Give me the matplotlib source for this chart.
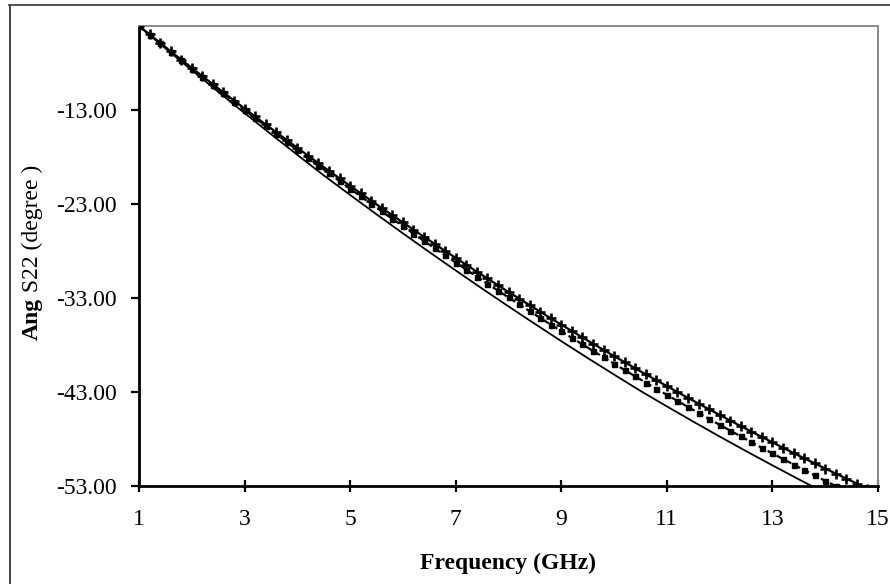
import matplotlib
matplotlib.use("Agg")
import matplotlib.pyplot as plt
from matplotlib.lines import Line2D

plt.rcParams['font.family'] = ['Liberation Serif', 'DejaVu Serif']

# Frequency grids (GHz)
freq_coarse = [1.0 + 0.5 * i for i in range(29)]
freq_fine = [round(1.0 + 0.2 * i, 1) for i in range(71)]

# Phase of S22 (degree)
ang_solid = [-4.00, -6.37, -8.71, -11.01, -13.28, -15.52, -17.73, -19.91,
             -22.00, -24.06, -26.09, -28.08, -30.04, -31.97, -33.87, -35.73,
             -37.57, -39.37, -41.13, -42.87, -44.52, -46.14, -47.73, -49.28,
             -50.80, -52.29, -53.75, -55.23, -56.67]

ang_dashed = [-4.00, -4.92, -5.83, -6.74, -7.64, -8.54, -9.43, -10.31,
              -11.19, -12.07, -12.94, -13.80, -14.66, -15.52, -16.36, -17.21,
              -18.04, -18.87, -19.70, -20.52, -21.34, -22.15, -22.95, -23.75,
              -24.55, -25.33, -26.12, -26.90, -27.67, -28.43, -29.20, -29.95,
              -30.70, -31.45, -32.19, -32.92, -33.65, -34.38, -35.09, -35.81,
              -36.51, -37.22, -37.91, -38.60, -39.29, -39.97, -40.65, -41.32,
              -41.98, -42.64, -43.29, -43.94, -44.58, -45.22, -45.85, -46.48,
              -47.10, -47.71, -48.33, -48.93, -49.53, -50.12, -50.71, -51.30,
              -51.87, -52.45, -53.01, -53.57, -54.13, -54.68, -55.23]

ang_cross = [-4.00, -4.90, -5.80, -6.70, -7.58, -8.47, -9.34, -10.21,
             -11.08, -11.94, -12.79, -13.64, -14.49, -15.32, -16.15, -16.98,
             -17.80, -18.62, -19.43, -20.23, -21.03, -21.82, -22.61, -23.39,
             -24.16, -24.93, -25.70, -26.46, -27.21, -27.96, -28.70, -29.44,
             -30.17, -30.89, -31.61, -32.33, -33.03, -33.74, -34.43, -35.13,
             -35.81, -36.49, -37.17, -37.84, -38.50, -39.16, -39.81, -40.46,
             -41.10, -41.73, -42.36, -42.99, -43.61, -44.22, -44.83, -45.43,
             -46.03, -46.62, -47.20, -47.78, -48.35, -48.92, -49.49, -50.04,
             -50.59, -51.14, -51.68, -52.21, -52.74, -53.27, -53.79]

x_ticks = [1, 3, 5, 7, 9, 11, 13, 15]
y_ticks = [-13, -23, -33, -43, -53]
y_min, y_max = -53, -4

W, H = 890, 584
fig = plt.figure(figsize=(W / 100, H / 100), dpi=100)
ax = fig.add_axes([139 / W, 1 - 486 / H, (878 - 139) / W, (486 - 26) / H])

ax.plot(freq_coarse, ang_solid, color='black', lw=1.3, zorder=3)
ax.plot(freq_fine, ang_dashed, color='black', lw=1.6, ls=(0, (3, 1.5)),
        marker='s', ms=3.6, mfc='black', mec='black', zorder=4)
ax.plot(freq_fine, ang_cross, color='black', lw=1.6,
        marker='+', ms=7.5, mew=1.9, zorder=5)

ax.set_xlim(1, 15)
ax.set_ylim(y_min, y_max)
ax.set_xticks(x_ticks)
ax.set_yticks(y_ticks)
ax.set_yticklabels([f"{v:.2f}" for v in y_ticks])
ax.tick_params(axis='x', direction='inout', length=9, width=1.6, pad=12,
               labelsize=17)
ax.tick_params(axis='y', direction='out', length=6, width=1.6, pad=10,
               labelsize=17)

for side in ('left', 'bottom'):
    ax.spines[side].set_linewidth(2.0)
    ax.spines[side].set_color('black')
for side in ('top', 'right'):
    ax.spines[side].set_linewidth(1.4)
    ax.spines[side].set_color('#8a8a8a')

# axis titles
fig.text(508 / W, 1 - 563 / H, 'Frequency (GHz)', fontsize=17,
         fontweight='bold', ha='center', va='center')
ylab = fig.text(32 / W, 1 - 340 / H, 'Ang', rotation=90, fontsize=17,
                fontweight='bold', ha='center', va='bottom')
ax.annotate(' S22 (degree )', xy=(0.5, 1.0), xycoords=ylab, rotation=90,
            fontsize=17, ha='center', va='bottom', annotation_clip=False)

# outer chart frame (top and left edges)
fig.add_artist(Line2D([9 / W, 1.0], [1 - 5 / H, 1 - 5 / H],
                      transform=fig.transFigure, color='#333333', lw=1.2))
fig.add_artist(Line2D([10 / W, 10 / W], [0, 1 - 5 / H],
                      transform=fig.transFigure, color='#444444', lw=1.4))

fig.savefig('out.png', dpi=100, facecolor='white')
